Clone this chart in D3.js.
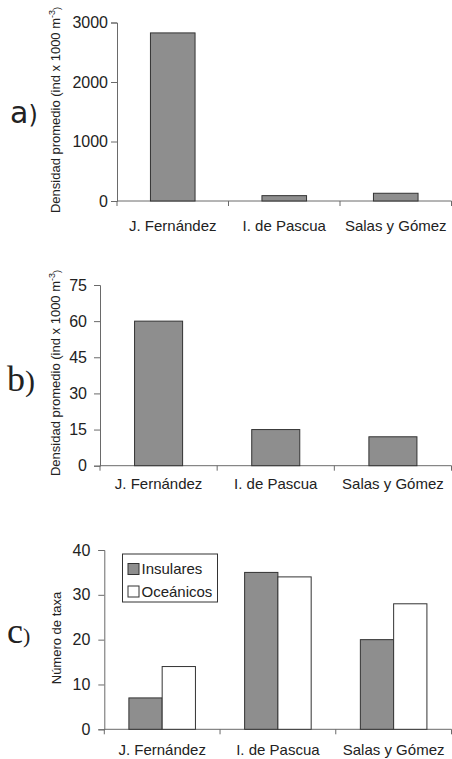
<!DOCTYPE html>
<html>
<head>
<meta charset="utf-8">
<script src="https://cdn.jsdelivr.net/npm/d3@7"></script>
<style>
  body { margin: 0; background: #fff; }
  svg { display: block; }
  text { font-family: "Liberation Sans", Arial, sans-serif; fill: #222; }
</style>
</head>
<body>
<svg id="chart" width="452" height="759"></svg>
<script>
// data
var islas = ['J. Fernández', 'I. de Pascua', 'Salas y Gómez']
var densidad_a = [2825, 90, 130]
var densidad_b = [60, 15, 12]
var ticks_a = [0, 1000, 2000, 3000]
var ticks_b = [0, 15, 30, 45, 60, 75]
var ticks_c = [0, 10, 20, 30, 40]
var grupos = ['Insulares', 'Oceánicos']
var taxa_insulares = [7, 35, 20]
var taxa_oceanicos = [14, 34, 28]

var svg = d3.select('#chart')
var barFill = '#8e8e8e'
var barStroke = '#333'
var axisColor = '#6a6a6a'
var sans = '"Liberation Sans", Arial, sans-serif'

function panel(opt) {
	var g = svg.append('g')

	var y = d3.scaleLinear().domain(opt.domain).range([opt.bottom, opt.top])
	var x = d3.scaleBand().domain(islas).range([opt.left, opt.right]).padding(0)

	// y axis
	var ya = g.append('g')
		.attr('transform', 'translate(' + opt.left + ',0)')
		.call(d3.axisLeft(y).tickValues(opt.ticks).tickFormat(d3.format('d')).tickSize(6).tickPadding(opt.pad))
	ya.select('.domain').attr('stroke', axisColor)
	ya.selectAll('.tick line').attr('stroke', axisColor)
	ya.selectAll('.tick text')
		.style('font-family', sans)
		.style('font-size', '16px')
		.attr('fill', '#222')

	// x axis with ticks at the category boundaries
	g.append('line')
		.attr('x1', opt.left).attr('x2', opt.right)
		.attr('y1', opt.bottom).attr('y2', opt.bottom)
		.attr('stroke', axisColor)
	var bounds = [opt.left].concat(islas.map(function(d) { return x(d) + x.bandwidth() }))
	g.selectAll('.xt')
		.data(bounds)
		.enter()
		.append('line')
		.attr('x1', function(d) { return d }).attr('x2', function(d) { return d })
		.attr('y1', opt.bottom).attr('y2', opt.bottom + 5)
		.attr('stroke', axisColor)
	g.selectAll('.xl')
		.data(islas)
		.enter()
		.append('text')
		.attr('x', function(d) { return x(d) + x.bandwidth() / 2 })
		.attr('y', opt.bottom + opt.labelDy)
		.attr('text-anchor', 'middle')
		.style('font-size', '15px')
		.text(function(d) { return d })

	return {g: g, x: x, y: y}
}

function title(g, cx, cy, parts) {
	var t = g.append('text')
		.attr('transform', 'translate(' + cx + ',' + cy + ') rotate(-90)')
		.attr('text-anchor', 'middle')
		.style('font-size', '13px')
	parts.forEach(function(p) {
		var s = t.append('tspan').text(p[0])
		if (p[1]) s.attr('dy', p[1]).style('font-size', '9px')
		if (p[2]) s.attr('dy', p[2])
	})
}

function etiqueta(x, y, letra, family, size1, size2) {
	var t = svg.append('text')
		.attr('x', x).attr('y', y)
		.style('font-family', family)
	t.append('tspan').style('font-size', size1 + 'px').text(letra)
	t.append('tspan').style('font-size', size2 + 'px').text(')')
}

// a)
var pa = panel({left: 117, right: 451.5, top: 22.5, bottom: 201, domain: [0, 3000], ticks: ticks_a, pad: 3, labelDy: 30})
pa.g.selectAll('.bar')
	.data(densidad_a)
	.enter()
	.append('rect')
	.attr('x', function(d, i) { return pa.x(islas[i]) + pa.x.bandwidth() * 0.3 })
	.attr('width', pa.x.bandwidth() * 0.4)
	.attr('y', function(d) { return pa.y(d) })
	.attr('height', function(d) { return pa.y(0) - pa.y(d) })
	.attr('fill', barFill).attr('stroke', barStroke).attr('stroke-width', 1)
title(pa.g, 60, 110, [['Densidad promedio (ind x 1000 m'], ['-3', '-5'], [')', '5']])
etiqueta(10, 123, 'a', '"DejaVu Sans", sans-serif', 30, 24)

// b)
var pb = panel({left: 100, right: 451.5, top: 285, bottom: 465.7, domain: [0, 75], ticks: ticks_b, pad: 7, labelDy: 23})
pb.g.selectAll('.bar')
	.data(densidad_b)
	.enter()
	.append('rect')
	.attr('x', function(d, i) { return pb.x(islas[i]) + pb.x.bandwidth() * 0.295 })
	.attr('width', pb.x.bandwidth() * 0.41)
	.attr('y', function(d) { return pb.y(d) })
	.attr('height', function(d) { return pb.y(0) - pb.y(d) })
	.attr('fill', barFill).attr('stroke', barStroke).attr('stroke-width', 1)
title(pb.g, 60, 373, [['Densidad promedio (ind x 1000 m'], ['-3', '-5'], [')', '5']])
etiqueta(7, 391, 'b', '"Liberation Serif", serif', 36, 30)

// c)
var pc = panel({left: 104.3, right: 451.5, top: 550, bottom: 729.3, domain: [0, 40], ticks: ticks_c, pad: 8, labelDy: 26})
var xg = d3.scaleBand().domain(grupos).range([0, pc.x.bandwidth() * 0.575])
var series = [taxa_insulares, taxa_oceanicos]
series.forEach(function(vals, s) {
	pc.g.selectAll('.bar' + s)
		.data(vals)
		.enter()
		.append('rect')
		.attr('x', function(d, i) { return pc.x(islas[i]) + pc.x.bandwidth() * 0.2125 + xg(grupos[s]) })
		.attr('width', xg.bandwidth())
		.attr('y', function(d) { return pc.y(d) })
		.attr('height', function(d) { return pc.y(0) - pc.y(d) })
		.attr('fill', s == 0 ? barFill : '#fff')
		.attr('stroke', barStroke).attr('stroke-width', 1)
})
title(pc.g, 61, 638, [['Número de taxa']])
etiqueta(7, 643, 'c', '"Liberation Serif", serif', 36, 22)

// legend
var lg = pc.g.append('g').attr('transform', 'translate(122.5,554)')
lg.append('rect').attr('width', 95).attr('height', 48)
	.attr('fill', '#fff').attr('stroke', '#333')
grupos.forEach(function(name, i) {
	lg.append('rect')
		.attr('x', 5.5).attr('y', 9.5 + i * 22.5)
		.attr('width', 11).attr('height', 11)
		.attr('fill', i == 0 ? barFill : '#fff').attr('stroke', barStroke)
	lg.append('text')
		.attr('x', 19).attr('y', 20 + i * 22.5)
		.style('font-size', '15px')
		.text(name)
})
</script>
</body>
</html>
